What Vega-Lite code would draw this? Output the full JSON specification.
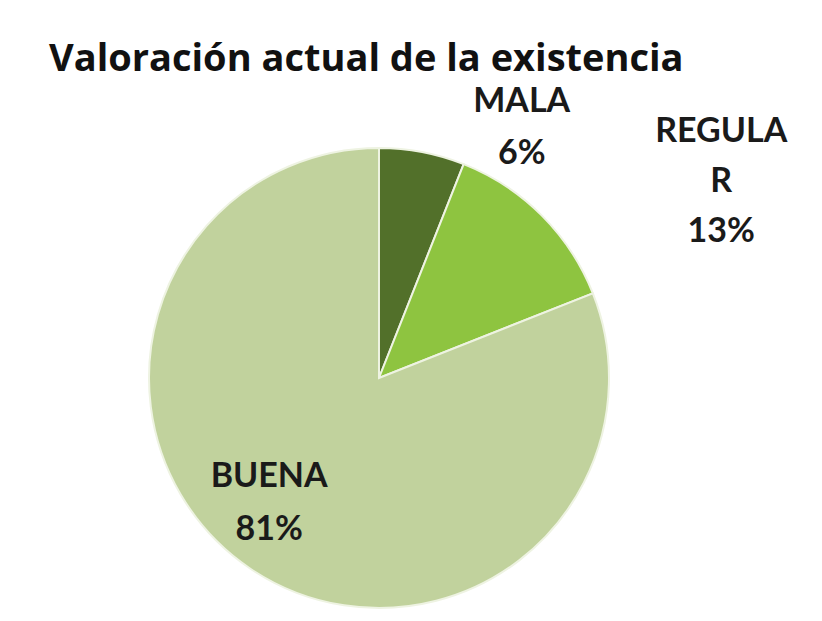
{
  "$schema": "https://vega.github.io/schema/vega-lite/v6.json",
  "autosize": "none",
  "width": 758,
  "height": 486,
  "padding": {"left": 0, "top": 135, "right": 64, "bottom": 0},
  "background": "white",
  "view": {"stroke": null},
  "title": {
    "text": "Valoración actual de la existencia",
    "anchor": "start",
    "frame": "group",
    "dx": 49,
    "offset": -24,
    "baseline": "alphabetic",
    "font": "Open Sans",
    "fontWeight": "bold",
    "fontSize": 38,
    "color": "#111111"
  },
  "data": {
    "values": [
      {"categoria": "MALA", "etiqueta": "MALA\n6%", "valor": 6},
      {"categoria": "REGULAR", "etiqueta": "REGULA\nR\n13%", "valor": 13},
      {"categoria": "BUENA", "etiqueta": "BUENA\n81%", "valor": 81}
    ]
  },
  "encoding": {
    "theta": {"field": "valor", "type": "quantitative", "stack": true},
    "order": {"field": "valor", "sort": "ascending"}
  },
  "layer": [
    {
      "mark": {"type": "arc", "outerRadius": 230, "stroke": "#eef3e2", "strokeWidth": 2},
      "encoding": {
        "color": {
          "field": "categoria",
          "type": "nominal",
          "scale": {"domain": ["MALA", "REGULAR", "BUENA"], "range": ["#52702a", "#8ec440", "#c1d29d"]},
          "legend": null
        }
      }
    },
    {
      "transform": [{"filter": "datum.categoria === 'MALA'"}],
      "mark": {"type": "text", "radius": 260, "dx": 94, "dy": -21, "font": "Lato", "fontWeight": "bold", "fontSize": 34, "fill": "#1a1a1a", "lineBreak": "\n", "lineHeight": 52, "baseline": "middle", "align": "center"},
      "encoding": {"text": {"field": "etiqueta"}}
    },
    {
      "transform": [{"filter": "datum.categoria === 'REGULAR'"}],
      "mark": {"type": "text", "radius": 265, "dx": 237, "dy": -3, "font": "Lato", "fontWeight": "bold", "fontSize": 34, "fill": "#1a1a1a", "lineBreak": "\n", "lineHeight": 50, "baseline": "middle", "align": "center"},
      "encoding": {"text": {"field": "etiqueta"}}
    },
    {
      "transform": [{"filter": "datum.categoria === 'BUENA'"}],
      "mark": {"type": "text", "radius": 180, "dx": -211, "dy": -50, "font": "Lato", "fontWeight": "bold", "fontSize": 34, "fill": "#1a1a1a", "lineBreak": "\n", "lineHeight": 53, "baseline": "middle", "align": "center"},
      "encoding": {"text": {"field": "etiqueta"}}
    }
  ]
}
